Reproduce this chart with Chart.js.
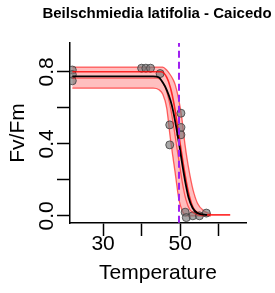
<!DOCTYPE html>
<html>
<head>
<meta charset="utf-8">
<script src="https://cdn.jsdelivr.net/npm/chart.js@4"></script>
<style>
  html, body { margin: 0; padding: 0; background: #fff; }
  #wrap { width: 275px; height: 293px; }
</style>
</head>
<body>
<div id="wrap"><canvas id="c" width="275" height="293"></canvas></div>
<script>
// Beilschmiedia latifolia heat curve (Fv/Fm vs temperature).

const TITLE = 'Beilschmiedia latifolia - Caicedo';

// measured points
const tempPts = [22, 22, 22, 40, 41.1, 42.3, 44.8, 47.3, 47.3, 50.2, 50.2, 50.2, 51.3, 51.6, 53.3, 55.0, 56.8];
const fvfmPts = [0.81, 0.785, 0.75, 0.82, 0.82, 0.82, 0.79, 0.505, 0.394, 0.57, 0.49, 0.45, 0.02, -0.01, 0.0, 0.0, 0.015];

// fitted curve (black)
const fitTemp = [22, 43, 44.4, 45.5, 46.5, 47.5, 48.2, 49, 49.8, 50.6, 51.4, 52.2, 53.2, 54.5, 57];
const fitFvfm = [0.775, 0.775, 0.77, 0.74, 0.70, 0.64, 0.58, 0.49, 0.39, 0.28, 0.18, 0.10, 0.045, 0.015, 0.005];

// bootstrap envelope (red band)
const bandTemp  = [22, 43, 44.5, 45.5, 46.5, 47.4, 48.1, 48.7, 49.6, 50.4, 51, 51.7, 52.5, 53.4, 54.5, 56, 58];
const bandUpper = [0.826, 0.826, 0.826, 0.826, 0.81, 0.785, 0.76, 0.73, 0.65, 0.55, 0.44, 0.33, 0.23, 0.14, 0.07, 0.03, 0.01];
const bandLower = [0.709, 0.709, 0.70, 0.675, 0.60, 0.44, 0.33, 0.24, 0.10, 0.035, 0.01, 0.0, 0.0, 0.0, 0.0, 0.0, 0.0];

// two inner bootstrap curves
const bootATemp = [22, 45, 46.5, 47.5, 48.5, 49.3, 50, 50.8, 51.6, 52.5, 53.5, 55, 57, 63];
const bootAFvfm = [0.80, 0.80, 0.77, 0.71, 0.61, 0.50, 0.40, 0.29, 0.19, 0.10, 0.04, 0.012, 0.005, 0.005];
const bootBTemp = [22, 44, 45.5, 46.5, 47.5, 48.3, 49, 49.8, 50.6, 51.5, 52.5, 54, 56];
const bootBFvfm = [0.765, 0.765, 0.74, 0.69, 0.60, 0.50, 0.40, 0.29, 0.18, 0.09, 0.035, 0.01, 0.0];

const t50 = 49.7;
const xTicks = [30, 40, 50, 60];
const xLabels = [30, 50];
const yTicks = [0, 0.2, 0.4, 0.6, 0.8];
const yLabels = ['0.0', '0.4', '0.8'];

const FONT = "'Liberation Sans', Arial, sans-serif";

function pts(xs, ys) { return xs.map((x, i) => ({ x, y: ys[i] })); }

const curve = (data, color, width, order, extra) => Object.assign({
  type: 'line', data, borderColor: color, borderWidth: width,
  pointRadius: 0, showLine: true, fill: false,
  cubicInterpolationMode: 'monotone', order
}, extra || {});

// R-style rotated y labels + title centred over the plot region
const rText = {
  id: 'rText',
  afterDraw(chart) {
    const { ctx, chartArea, scales } = chart;
    ctx.save();
    ctx.fillStyle = '#000';
    ctx.font = 'bold 15px ' + FONT;
    ctx.textAlign = 'center';
    ctx.textBaseline = 'middle';
    ctx.fillText(TITLE, (chartArea.left + chartArea.right) / 2 - 1, 14);
    ctx.font = '21px ' + FONT;
    yLabels.forEach(l => {
      const y = scales.y.getPixelForValue(parseFloat(l));
      ctx.save();
      ctx.translate(47, y);
      ctx.rotate(-Math.PI / 2);
      ctx.fillText(l, 0, 0);
      ctx.restore();
    });
    ctx.restore();
  }
};

new Chart(document.getElementById('c'), {
  type: 'scatter',
  data: {
    datasets: [
      curve([{ x: t50, y: -0.1 }, { x: t50, y: 1.1 }], '#a020f0', 2, 0,
        { borderDash: [7, 4], cubicInterpolationMode: 'default' }),
      curve(pts(fitTemp, fitFvfm), '#000', 1.8, 1),
      curve(pts(bootATemp, bootAFvfm), 'rgba(255,0,0,0.8)', 1.6, 2),
      curve(pts(bootBTemp, bootBFvfm), 'rgba(255,0,0,0.55)', 1.3, 3),
      curve(pts(bandTemp, bandUpper), 'rgba(255,0,0,0.6)', 1.3, 4,
        { fill: '+1', backgroundColor: 'rgba(255,0,0,0.25)' }),
      curve(pts(bandTemp, bandLower), 'rgba(255,0,0,0.6)', 1.3, 5),
      {
        data: pts(tempPts, fvfmPts), order: 3.5,
        pointRadius: 4, pointBorderWidth: 1,
        backgroundColor: 'rgba(120,120,120,0.65)', borderColor: 'rgba(60,60,60,0.8)'
      }
    ]
  },
  options: {
    responsive: false, animation: false, devicePixelRatio: 1,
    layout: { padding: { top: 43, right: 29, left: 0, bottom: 0 } },
    plugins: { legend: { display: false }, tooltip: { enabled: false }, title: { display: false } },
    scales: {
      x: {
        type: 'linear', min: 21.4, max: 67.1,
        afterBuildTicks: s => { s.ticks = xTicks.map(v => ({ value: v })); },
        afterFit: s => { s.height = 70; },
        ticks: {
          color: '#000', padding: -4, maxRotation: 0, autoSkip: false,
          font: { family: FONT, size: 21 },
          callback: v => xLabels.includes(v) ? String(v) : ''
        },
        grid: { drawOnChartArea: false, tickLength: 13, color: '#000', tickWidth: 1.5 },
        border: { display: true, color: '#000', width: 1.5 },
        title: { display: true, text: 'Temperature', color: '#000',
          font: { family: FONT, size: 21 }, padding: { top: 0, bottom: 7 } }
      },
      y: {
        type: 'linear', min: -0.04, max: 0.96,
        afterBuildTicks: s => { s.ticks = yTicks.map(v => ({ value: v })); },
        afterFit: s => { s.width = 70; },
        ticks: { callback: () => '', autoSkip: false },
        grid: { drawOnChartArea: false, tickLength: 13, color: '#000', tickWidth: 1.5 },
        border: { display: true, color: '#000', width: 1.5 },
        title: { display: true, text: 'Fv/Fm', color: '#000',
          font: { family: FONT, size: 21 }, padding: { top: 6, bottom: 0 } }
      }
    }
  },
  plugins: [rText]
});
</script>
</body>
</html>
